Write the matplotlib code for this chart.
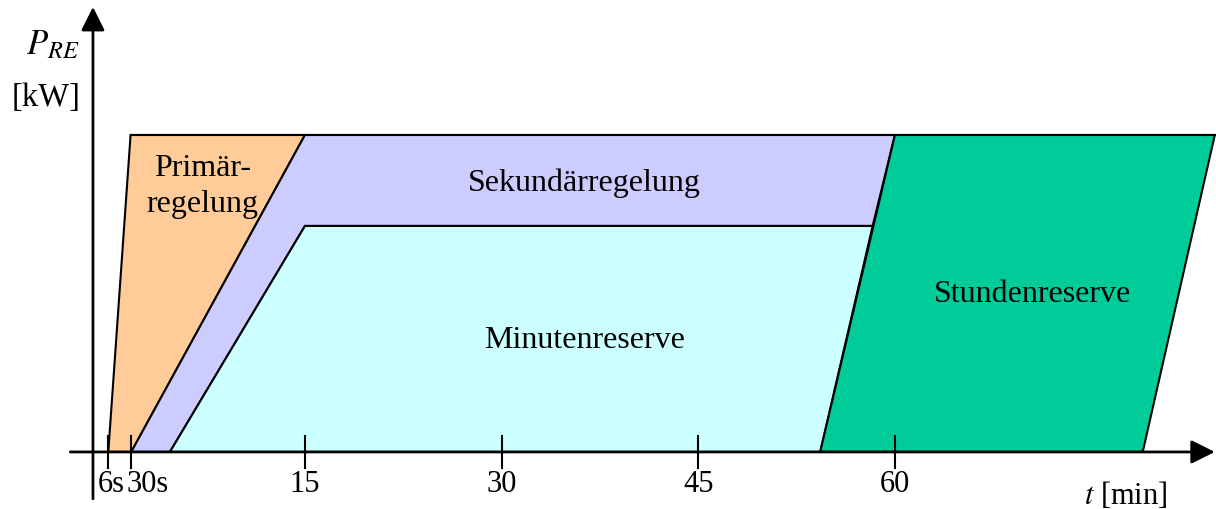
import matplotlib
matplotlib.use("Agg")
import matplotlib.pyplot as plt
from matplotlib.patches import Polygon

plt.rcParams['font.family'] = ['Liberation Serif', 'DejaVu Serif']

# Schematic axis units: x in minutes (start is stretched), y relative power (1 = full)
tick_pos = [0.0, 1.75, 15, 30, 45, 60]
tick_labels = ["6s", "30s", "15", "30", "45", "60"]
label_dx_pt = [2, 11.5, 0, 0, 0, 0]

primaer_x = [0.0, 1.7, 15.0, 1.75]
primaer_y = [0.0, 1.0, 1.0, 0.0]
sekundaer_x = [1.75, 15.0, 60.0, 58.3, 15.0, 4.7]
sekundaer_y = [0.0, 1.0, 1.0, 0.713, 0.713, 0.0]
minuten_x = [4.7, 15.0, 58.3, 54.3]
minuten_y = [0.0, 0.713, 0.713, 0.0]
stunden_x = [54.3, 60.0, 84.4, 78.9]
stunden_y = [0.0, 1.0, 1.0, 0.0]

regions = [
    (primaer_x, primaer_y, "#FFCC99"),
    (sekundaer_x, sekundaer_y, "#CCCCFF"),
    (minuten_x, minuten_y, "#CCFFFF"),
    (stunden_x, stunden_y, "#00CC99"),
]

fig = plt.figure(figsize=(12.16, 5.10), dpi=100)
ax = fig.add_axes([0, 0, 1, 1])
ax.set_xlim(-8.26, 84.49)
ax.set_ylim(-0.18, 1.429)
ax.axis("off")

for xs, ys, col in regions:
    ax.add_patch(Polygon(list(zip(xs, ys)), closed=True, facecolor=col,
                         edgecolor="black", lw=1.5, zorder=2))

# top line
ax.plot([1.7, 84.4], [1.0, 1.0], color="black", lw=1.5, zorder=3)

# axes with arrows
arrow = dict(arrowstyle="-|>,head_length=0.4,head_width=0.2", mutation_scale=36,
             lw=2, color="black", shrinkA=0, shrinkB=0)
ax.annotate("", xy=(84.4, 0), xytext=(-2.9, 0), arrowprops=arrow, zorder=4)
ax.annotate("", xy=(-1.17, 1.404), xytext=(-1.17, -0.148), arrowprops=arrow, zorder=4)

# ticks
for p, lab, dx in zip(tick_pos, tick_labels, label_dx_pt):
    ax.plot([p, p], [-0.05, 0.05], color="black", lw=1.5, zorder=4)
    ax.annotate(lab, xy=(p, -0.1), xytext=(dx, 0), textcoords="offset points",
                ha="center", va="center", fontsize=22)

# region labels
ax.text(7.2, 0.84, "Primär-\nregelung", ha="center", va="center", fontsize=23,
        linespacing=1.3)
ax.text(36.3, 0.85, "Sekundärregelung", ha="center", va="center", fontsize=23)
ax.text(36.3, 0.355, "Minutenreserve", ha="center", va="center", fontsize=23)
ax.text(70.5, 0.50, "Stundenreserve", ha="center", va="center", fontsize=23)

# axis labels
ax.text(-2.2, 1.285, r"$P_{RE}$", ha="right", va="center", fontsize=25,
        math_fontfamily="stix")
ax.text(-2.1, 1.12, "[kW]", ha="right", va="center", fontsize=23.5)
ax.text(77.6, -0.135, r"$t$ [min]", ha="center", va="center", fontsize=22,
        math_fontfamily="stix")

fig.savefig("out.png", dpi=100)
